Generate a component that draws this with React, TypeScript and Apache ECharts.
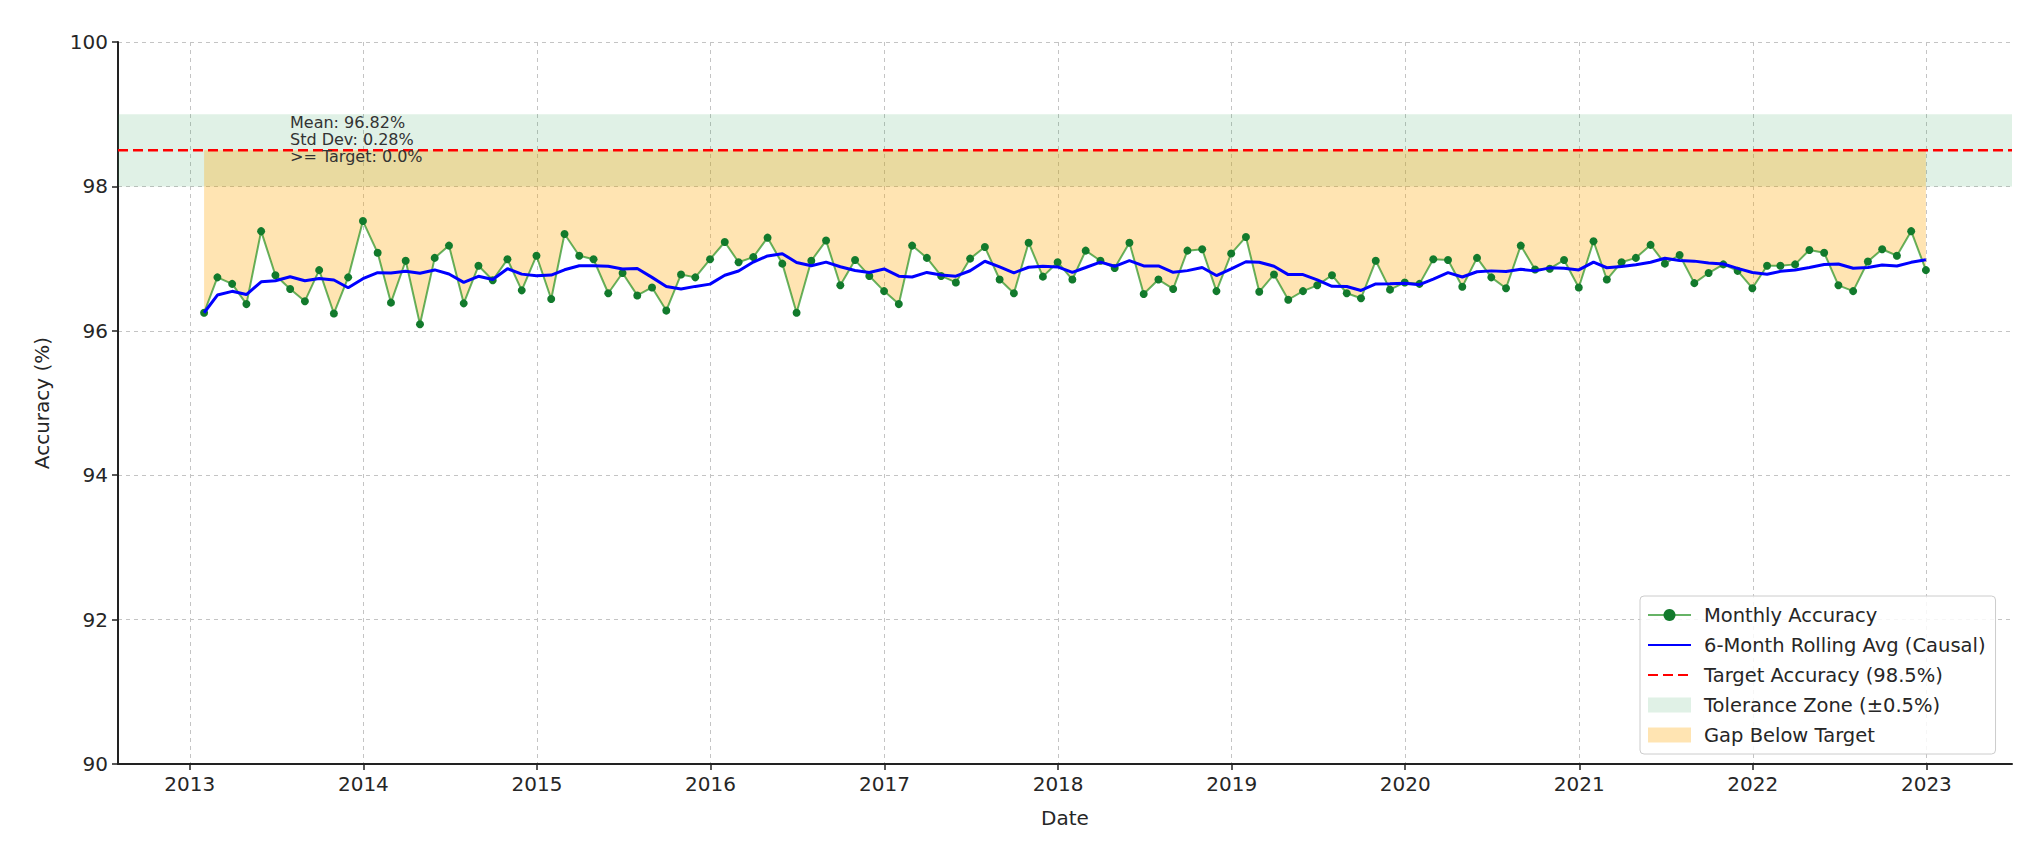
import { useEffect, useRef } from 'react';
import * as echarts from 'echarts';

// ---- Data ----
const START_YEAR = 2013; // first point: end of January 2013, monthly (month-end) dates
const YEAR_TICKS = [2013, 2014, 2015, 2016, 2017, 2018, 2019, 2020, 2021, 2022, 2023];

const acc2013 = [96.25, 96.74, 96.65, 96.37, 97.38, 96.77, 96.58, 96.41, 96.84, 96.24, 96.74, 97.52];
const acc2014 = [97.08, 96.39, 96.97, 96.09, 97.01, 97.18, 96.38, 96.90, 96.70, 96.99, 96.56, 97.04];
const acc2015 = [96.44, 97.34, 97.04, 96.99, 96.52, 96.80, 96.49, 96.60, 96.28, 96.78, 96.74, 96.99];
const acc2016 = [97.23, 96.95, 97.02, 97.29, 96.93, 96.25, 96.97, 97.25, 96.63, 96.98, 96.76, 96.55];
const acc2017 = [96.37, 97.18, 97.01, 96.76, 96.67, 97.00, 97.16, 96.71, 96.52, 97.22, 96.75, 96.95];
const acc2018 = [96.71, 97.11, 96.97, 96.87, 97.22, 96.51, 96.71, 96.58, 97.11, 97.13, 96.55, 97.07];
const acc2019 = [97.30, 96.54, 96.78, 96.43, 96.55, 96.63, 96.77, 96.52, 96.45, 96.97, 96.57, 96.67];
const acc2020 = [96.65, 96.99, 96.98, 96.61, 97.01, 96.74, 96.59, 97.18, 96.85, 96.86, 96.98, 96.60];
const acc2021 = [97.24, 96.71, 96.95, 97.01, 97.19, 96.93, 97.05, 96.66, 96.80, 96.92, 96.83, 96.59];
const acc2022 = [96.90, 96.90, 96.92, 97.12, 97.08, 96.63, 96.55, 96.96, 97.13, 97.04, 97.38, 96.84];

const MONTHLY_ACCURACY = [
  ...acc2013, ...acc2014, ...acc2015, ...acc2016, ...acc2017,
  ...acc2018, ...acc2019, ...acc2020, ...acc2021, ...acc2022,
];

const TARGET = 98.5;
const TOLERANCE_LOW = 98.0;
const TOLERANCE_HIGH = 99.0;
const ROLL_WINDOW = 6; // causal rolling mean of the monthly values (min periods 1)

const Y_MIN = 90;
const Y_MAX = 100;
const Y_INTERVAL = 2;

const ANNOTATION_LINES = ['Mean: 96.82%', 'Std Dev: 0.28%', '>= Target: 0.0%'];

const LEGEND_NAMES = {
  monthly: 'Monthly Accuracy',
  rolling: '6-Month Rolling Avg (Causal)',
  target: 'Target Accuracy (98.5%)',
  tolerance: 'Tolerance Zone (\u00b10.5%)',
  gap: 'Gap Below Target',
};

// ---- Styles ----
const FONT = 'DejaVu Sans';
const TEXT_COLOR = '#262626';
const TOL_COLOR = 'rgba(46,160,90,0.15)';
const GAP_COLOR = 'rgba(255,165,0,0.3)';

function monthEnd(i: number): number {
  return Date.UTC(START_YEAR, i + 1, 0);
}

export default function App() {
  const ref = useRef<HTMLDivElement>(null);

  useEffect(() => {
    if (!ref.current) return;
    const chart = echarts.init(ref.current, undefined, { renderer: 'svg' });

    const dates = MONTHLY_ACCURACY.map((_, i) => monthEnd(i));
    const accPoints = MONTHLY_ACCURACY.map((v, i) => [dates[i], v]);
    const rollPoints = MONTHLY_ACCURACY.map((_, i) => {
      const s = Math.max(0, i - ROLL_WINDOW + 1);
      const win = MONTHLY_ACCURACY.slice(s, i + 1);
      return [dates[i], win.reduce((a, b) => a + b, 0) / win.length];
    });

    const first = dates[0];
    const last = dates[dates.length - 1];
    const span = last - first;
    const xMin = first - 0.05 * span;
    const xMax = last + 0.05 * span;
    const yearStamps = YEAR_TICKS.map((y) => Date.UTC(y, 0, 1));

    const annotationTops = [114, 131, 148];

    chart.setOption({
      animation: false,
      textStyle: { fontFamily: FONT },
      grid: { left: 118, right: 30, top: 42, bottom: 82, outerBoundsMode: 'none' },
      xAxis: {
        type: 'value',
        min: xMin,
        max: xMax,
        name: 'Date',
        nameLocation: 'middle',
        nameGap: 44,
        nameTextStyle: { fontSize: 20, color: TEXT_COLOR, fontFamily: FONT },
        axisLine: { show: true, lineStyle: { color: '#222', width: 2 } },
        axisTick: { show: true, length: 6, lineStyle: { color: '#222', width: 1.5 }, customValues: yearStamps },
        axisLabel: {
          customValues: yearStamps,
          formatter: (v: number) => String(new Date(v).getUTCFullYear()),
          fontSize: 20,
          color: TEXT_COLOR,
          fontFamily: FONT,
          margin: 10,
          hideOverlap: false,
        },
        splitLine: { show: true, lineStyle: { type: [4, 4], color: '#c4c4c4', width: 1 } },
      },
      yAxis: {
        type: 'value',
        min: Y_MIN,
        max: Y_MAX,
        interval: Y_INTERVAL,
        name: 'Accuracy (%)',
        nameLocation: 'middle',
        nameGap: 66,
        nameRotate: 90,
        nameTextStyle: { fontSize: 20, color: TEXT_COLOR, fontFamily: FONT },
        axisLine: { show: true, lineStyle: { color: '#222', width: 2 } },
        axisTick: { show: true, length: 6, lineStyle: { color: '#222', width: 1.5 } },
        axisLabel: { fontSize: 20, color: TEXT_COLOR, fontFamily: FONT, margin: 10 },
        splitLine: { show: true, lineStyle: { type: [4, 4], color: '#c4c4c4', width: 1 } },
      },
      legend: {
        orient: 'vertical',
        left: 1640,
        top: 596,
        padding: [9, 10, 9, 7],
        itemWidth: 43,
        itemHeight: 15,
        itemGap: 10,
        backgroundColor: 'rgba(255,255,255,0.85)',
        borderColor: '#cccccc',
        borderWidth: 1,
        borderRadius: 4,
        textStyle: { fontSize: 19.5, color: TEXT_COLOR, fontFamily: FONT, padding: [0, 0, 0, 8] },
        data: [
          { name: LEGEND_NAMES.monthly },
          { name: LEGEND_NAMES.rolling, itemStyle: { opacity: 0 } },
          { name: LEGEND_NAMES.target, itemStyle: { opacity: 0 } },
          { name: LEGEND_NAMES.tolerance, icon: 'rect', itemStyle: { color: TOL_COLOR } },
          { name: LEGEND_NAMES.gap, icon: 'rect', itemStyle: { color: GAP_COLOR } },
        ],
      },
      graphic: ANNOTATION_LINES.map((t, k) => ({
        type: 'text',
        left: 290,
        top: annotationTops[k],
        z: 100,
        style: { text: t, fontSize: 16, fill: '#333', fontFamily: FONT },
      })),
      series: [
        {
          type: 'line',
          name: LEGEND_NAMES.tolerance,
          data: [[xMin, TOLERANCE_LOW]],
          symbol: 'none',
          showSymbol: false,
          lineStyle: { opacity: 0 },
          itemStyle: { color: TOL_COLOR },
          silent: true,
          z: 1,
          markArea: {
            silent: true,
            itemStyle: { color: TOL_COLOR },
            data: [[{ yAxis: TOLERANCE_LOW }, { yAxis: TOLERANCE_HIGH }]],
          },
        },
        {
          type: 'custom',
          name: LEGEND_NAMES.gap,
          data: accPoints,
          silent: true,
          z: 2,
          itemStyle: { color: GAP_COLOR },
          renderItem: (params: any, api: any) => {
            if (params.dataIndex !== 0) return null;
            const top = accPoints.map((p) => api.coord([p[0], TARGET]));
            const bottom = accPoints.map((p) => api.coord([p[0], p[1]])).reverse();
            return {
              type: 'polygon',
              shape: { points: [...top, ...bottom] },
              style: { fill: GAP_COLOR },
            };
          },
        },
        {
          type: 'line',
          name: LEGEND_NAMES.target,
          data: [[xMin, TARGET], [xMax, TARGET]],
          symbol: 'none',
          showSymbol: false,
          lineStyle: { color: '#ff0000', width: 2.5, type: [10, 5] },
          itemStyle: { color: '#ff0000' },
          z: 3,
        },
        {
          type: 'line',
          name: LEGEND_NAMES.monthly,
          data: accPoints,
          symbol: 'circle',
          symbolSize: 8,
          showSymbol: true,
          showAllSymbol: true,
          lineStyle: { color: 'rgba(0,128,0,0.6)', width: 2 },
          itemStyle: { color: '#127a2c' },
          z: 4,
        },
        {
          type: 'line',
          name: LEGEND_NAMES.rolling,
          data: rollPoints,
          symbol: 'none',
          showSymbol: false,
          lineStyle: { color: '#0000ff', width: 3 },
          itemStyle: { color: '#0000ff' },
          z: 5,
        },
      ],
    });

    return () => chart.dispose();
  }, []);

  return (
    <div
      ref={ref}
      style={{ position: 'fixed', left: 0, top: 0, width: 2042, height: 846, background: '#fff' }}
    />
  );
}
